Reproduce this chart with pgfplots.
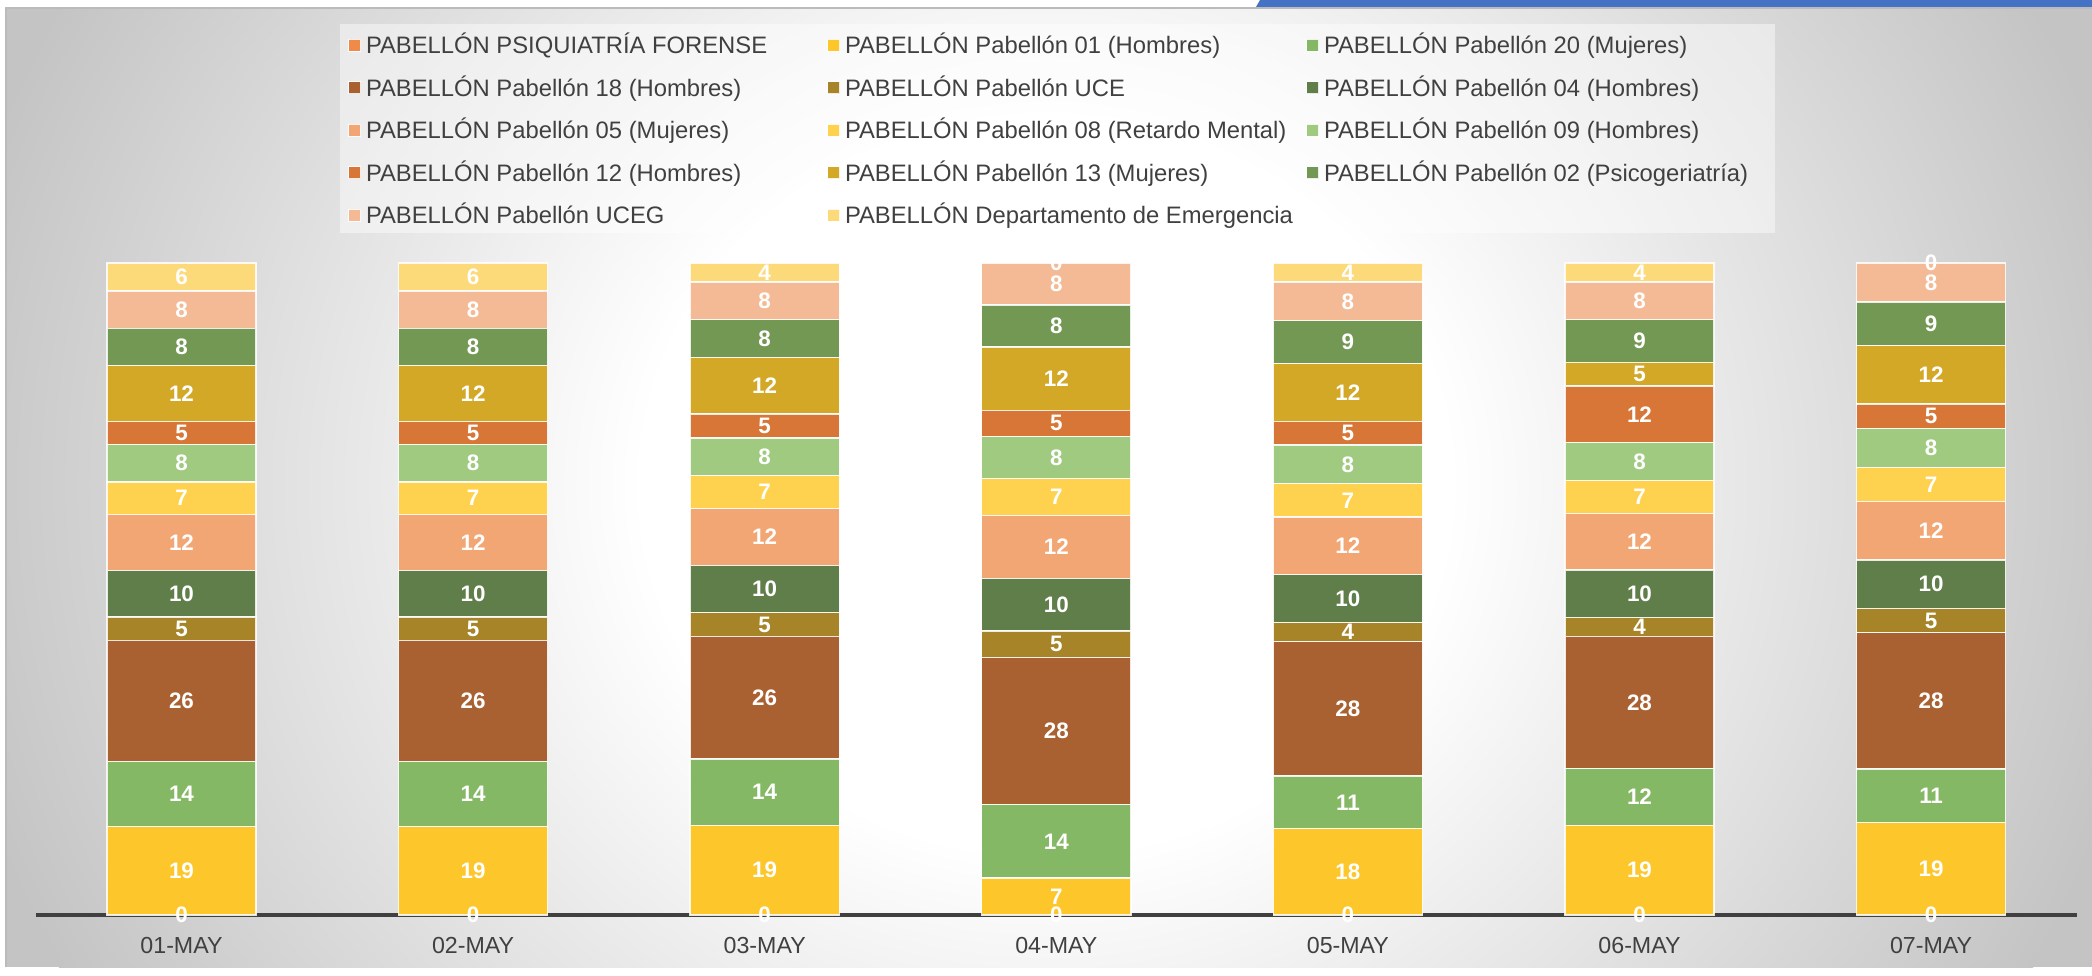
\documentclass[border=0pt]{standalone}
\usepackage{pgfplots}
\usepackage{pgfplotstable}
\pgfplotsset{compat=1.18}
\usepackage{fontspec}
\setmainfont{Liberation Sans}
\newcommand\legfont{\fontsize{11.9}{14}\selectfont}
\newcommand\tickfont{\fontsize{11.6}{14}\selectfont}
\newcommand\lblfont{\fontsize{11.2}{13}\selectfont\bfseries}

\definecolor{bgout}{HTML}{C4C4C4}
\definecolor{bgedge}{HTML}{BBBBBB}
\definecolor{topblue}{HTML}{4472C4}
\definecolor{axisgray}{HTML}{404040}
\definecolor{textgray}{HTML}{404040}
\definecolor{c1}{HTML}{EF8B4A}
\definecolor{c2}{HTML}{FDC62A}
\definecolor{c3}{HTML}{85B865}
\definecolor{c4}{HTML}{AA6131}
\definecolor{c5}{HTML}{A68427}
\definecolor{c6}{HTML}{5F7E4A}
\definecolor{c7}{HTML}{F2A674}
\definecolor{c8}{HTML}{FED24F}
\definecolor{c9}{HTML}{9FCA80}
\definecolor{c10}{HTML}{D77636}
\definecolor{c11}{HTML}{D3A827}
\definecolor{c12}{HTML}{739854}
\definecolor{c13}{HTML}{F4BA95}
\definecolor{c14}{HTML}{FDDA79}

\pgfdeclareradialshading{bgrad}{\pgfpoint{0bp}{0bp}}{color(0bp)=(white); color(9bp)=(white); color(25bp)=(bgout); color(50bp)=(bgout)}

\pgfplotstableread{
x s1 s2 s3 s4 s5 s6 s7 s8 s9 s10 s11 s12 s13 s14 tot
0 0 19 14 26 5 10 12 7 8 5 12 8 8 6 140
1 0 19 14 26 5 10 12 7 8 5 12 8 8 6 140
2 0 19 14 26 5 10 12 7 8 5 12 8 8 4 138
3 0 7 14 28 5 10 12 7 8 5 12 8 8 0 124
4 0 18 11 28 4 10 12 7 8 5 12 9 8 4 136
5 0 19 12 28 4 10 12 7 8 12 5 9 8 4 138
6 0 19 11 28 5 10 12 7 8 5 12 9 8 0 134
}\data

\newcommand\LE[1]{\makebox[233pt][l]{\hspace{2.5pt}#1}}
\newcommand\mybar[3]{\addplot[fill=#2, draw=white, draw opacity=0.85, line width=0.7pt] table[x=x, y expr=100*\thisrow{#1}/\thisrow{tot}] {\data}; \addlegendentry{\LE{#3}}}
% label at the middle of each segment: (sum of the segments below + half of this one) / total
\newcommand\mylab[2]{\addplot[draw=none, mark=none, nodes near coords={\pgfmathprintnumber[assume math mode=true]{\pgfplotspointmeta}}, point meta=\thisrow{#1}] table[x=x, y expr=100*(#2+0.5*\thisrow{#1})/\thisrow{tot}] {\data};}
\newcommand\R[1]{\thisrow{#1}}

\begin{document}
\begin{tikzpicture}
\useasboundingbox (0,0) rectangle (1046pt,487.5pt);
\fill[white] (0,0) rectangle (1046pt,487.5pt);
\begin{scope}
\clip (3pt,4pt) rectangle (1046pt,483.5pt);
\fill[bgout] (3pt,4pt) rectangle (1046pt,483.5pt);
\shade[shading=bgrad] (523pt,245pt) ellipse (560pt and 510pt);
\end{scope}
\draw[bgedge, line width=0.7pt] (3pt,4pt) -- (3pt,483.5pt) -- (1046pt,483.5pt);
\fill[topblue] (628pt,484pt) -- (630pt,487.5pt) -- (1046pt,487.5pt) -- (1046pt,484pt) -- cycle;
\fill[white, opacity=0.45] (170pt,371pt) rectangle (887.5pt,475.5pt);

\begin{axis}[
  at={(17.85pt,30pt)}, anchor=south west,
  scale only axis, width=1020.6pt, height=326pt,
  xmin=-0.5, xmax=6.5, ymin=0, ymax=100,
  ybar stacked, bar width=0.511,
  axis x line=bottom, axis y line=none,
  x axis line style={-, draw=axisgray, line width=2.2pt},
  xtick={0,1,2,3,4,5,6},
  xticklabels={01-MAY,02-MAY,03-MAY,04-MAY,05-MAY,06-MAY,07-MAY},
  major tick length=0pt,
  xticklabel style={font=\tickfont, text=textgray, anchor=center, yshift=-15.5pt},
  legend columns=3, legend cell align=left,
  legend image code/.code={\fill[#1, draw=white, line width=0.5pt] (0pt,-1.85pt) rectangle (6pt,4.15pt);},
  legend style={draw=none, fill=none, inner sep=0pt, outer sep=0pt,
    at={(axis description cs:0.1530,1.3475)}, anchor=north west,
    row sep=10.25pt, column sep=0pt,
    nodes={inner sep=0pt, text height=8.6pt, text depth=2.4pt},
    font=\legfont, text=textgray},
]
\mybar{s1}{c1}{PABELLÓN PSIQUIATRÍA FORENSE}
\mybar{s2}{c2}{PABELLÓN Pabellón 01 (Hombres)}
\mybar{s3}{c3}{PABELLÓN Pabellón 20 (Mujeres)}
\mybar{s4}{c4}{PABELLÓN Pabellón 18 (Hombres)}
\mybar{s5}{c5}{PABELLÓN Pabellón UCE}
\mybar{s6}{c6}{PABELLÓN Pabellón 04 (Hombres)}
\mybar{s7}{c7}{PABELLÓN Pabellón 05 (Mujeres)}
\mybar{s8}{c8}{PABELLÓN Pabellón 08 (Retardo Mental)}
\mybar{s9}{c9}{PABELLÓN Pabellón 09 (Hombres)}
\mybar{s10}{c10}{PABELLÓN Pabellón 12 (Hombres)}
\mybar{s11}{c11}{PABELLÓN Pabellón 13 (Mujeres)}
\mybar{s12}{c12}{PABELLÓN Pabellón 02 (Psicogeriatría)}
\mybar{s13}{c13}{PABELLÓN Pabellón UCEG}
\mybar{s14}{c14}{PABELLÓN Departamento de Emergencia}
\end{axis}

\begin{axis}[
  at={(17.85pt,30pt)}, anchor=south west,
  scale only axis, width=1020.6pt, height=326pt,
  xmin=-0.5, xmax=6.5, ymin=0, ymax=100,
  hide axis, clip=false,
  every node near coord/.append style={font=\lblfont, text=white, anchor=center, inner sep=0pt},
]
\mylab{s1}{0}
\mylab{s2}{\R{s1}}
\mylab{s3}{\R{s1}+\R{s2}}
\mylab{s4}{\R{s1}+\R{s2}+\R{s3}}
\mylab{s5}{\R{s1}+\R{s2}+\R{s3}+\R{s4}}
\mylab{s6}{\R{s1}+\R{s2}+\R{s3}+\R{s4}+\R{s5}}
\mylab{s7}{\R{s1}+\R{s2}+\R{s3}+\R{s4}+\R{s5}+\R{s6}}
\mylab{s8}{\R{s1}+\R{s2}+\R{s3}+\R{s4}+\R{s5}+\R{s6}+\R{s7}}
\mylab{s9}{\R{s1}+\R{s2}+\R{s3}+\R{s4}+\R{s5}+\R{s6}+\R{s7}+\R{s8}}
\mylab{s10}{\R{s1}+\R{s2}+\R{s3}+\R{s4}+\R{s5}+\R{s6}+\R{s7}+\R{s8}+\R{s9}}
\mylab{s11}{\R{s1}+\R{s2}+\R{s3}+\R{s4}+\R{s5}+\R{s6}+\R{s7}+\R{s8}+\R{s9}+\R{s10}}
\mylab{s12}{\R{s1}+\R{s2}+\R{s3}+\R{s4}+\R{s5}+\R{s6}+\R{s7}+\R{s8}+\R{s9}+\R{s10}+\R{s11}}
\mylab{s13}{\R{s1}+\R{s2}+\R{s3}+\R{s4}+\R{s5}+\R{s6}+\R{s7}+\R{s8}+\R{s9}+\R{s10}+\R{s11}+\R{s12}}
\mylab{s14}{\R{s1}+\R{s2}+\R{s3}+\R{s4}+\R{s5}+\R{s6}+\R{s7}+\R{s8}+\R{s9}+\R{s10}+\R{s11}+\R{s12}+\R{s13}}
\end{axis}
\end{tikzpicture}
\end{document}
